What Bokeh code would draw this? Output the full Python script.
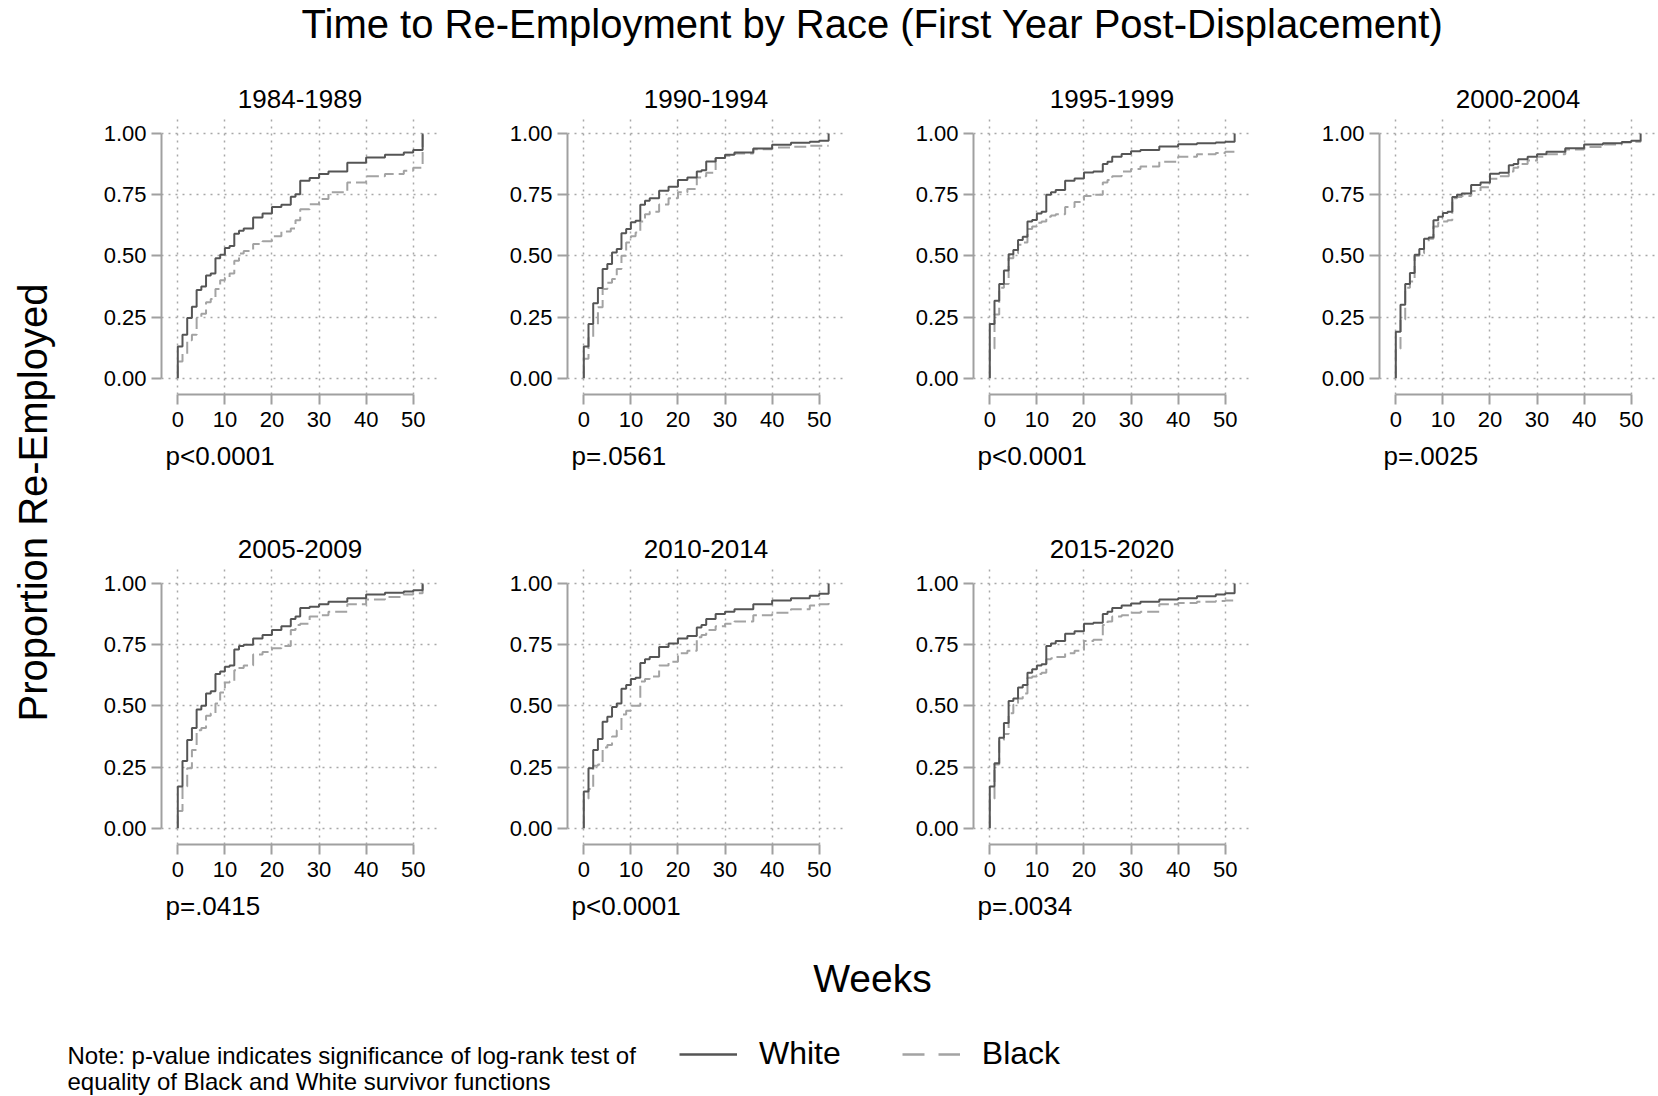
from math import pi

from bokeh.core.properties import value
from bokeh.embed import file_html
from bokeh.layouts import column, row
from bokeh.models import (ColumnDataSource, FixedTicker, Legend, LegendItem,
                          PrintfTickFormatter, Range1d, Spacer, Title)
from bokeh.plotting import figure
from bokeh.resources import INLINE

FONT = "Liberation Sans"
WHITE_COLOR = "#555555"
BLACK_COLOR = "#a3a3a3"
AXIS_COLOR = "#a0a0a0"
GRID_COLOR = "#a8a8a8"

# ---- data -----------------------------------------------------------------
weeks = [0, 1, 2, 3, 4, 5, 6, 7, 8, 9, 10, 11, 12, 13, 14,
         16, 18, 20, 22, 24, 25, 26, 28, 30, 32, 36, 40, 44, 48, 50, 52]

periods = ["1984-1989", "1990-1994", "1995-1999", "2000-2004",
           "2005-2009", "2010-2014", "2015-2020"]
p_values = ["p<0.0001", "p=.0561", "p<0.0001", "p=.0025",
            "p=.0415", "p<0.0001", "p=.0034"]

x_ticks = [0, 10, 20, 30, 40, 50]
y_ticks = [0, 0.25, 0.5, 0.75, 1.0]

# cumulative proportion re-employed at each week
white_1984 = [0.13, 0.178, 0.246, 0.292, 0.36, 0.375, 0.42, 0.428, 0.49, 0.505, 0.532, 0.54, 0.59, 0.603, 0.612,
              0.657, 0.673, 0.70, 0.709, 0.741, 0.752, 0.807, 0.818, 0.834, 0.845, 0.88, 0.902, 0.913, 0.922, 0.932, 1.0]
black_1984 = [0.068, 0.10, 0.155, 0.178, 0.246, 0.263, 0.31, 0.324, 0.365, 0.40, 0.412, 0.428, 0.48, 0.51, 0.52,
              0.548, 0.56, 0.58, 0.60, 0.612, 0.645, 0.69, 0.711, 0.732, 0.76, 0.80, 0.825, 0.834, 0.848, 0.86, 1.0]

white_1990 = [0.13, 0.222, 0.306, 0.369, 0.446, 0.467, 0.514, 0.528, 0.592, 0.61, 0.637, 0.643, 0.709, 0.725, 0.735,
              0.766, 0.782, 0.81, 0.82, 0.845, 0.85, 0.886, 0.90, 0.913, 0.922, 0.939, 0.954, 0.962, 0.966, 0.97, 1.0]
black_1990 = [0.08, 0.165, 0.215, 0.29, 0.365, 0.39, 0.405, 0.446, 0.50, 0.555, 0.58, 0.595, 0.64, 0.67, 0.68,
              0.71, 0.735, 0.76, 0.773, 0.82, 0.825, 0.84, 0.90, 0.909, 0.918, 0.936, 0.943, 0.946, 0.95, 0.95, 0.95]

white_1995 = [0.222, 0.317, 0.385, 0.44, 0.507, 0.524, 0.565, 0.578, 0.64, 0.646, 0.673, 0.68, 0.75, 0.76, 0.769,
              0.807, 0.816, 0.841, 0.845, 0.875, 0.885, 0.905, 0.916, 0.927, 0.933, 0.947, 0.956, 0.96, 0.963, 0.966, 1.0]
black_1995 = [0.12, 0.26, 0.37, 0.385, 0.49, 0.51, 0.545, 0.555, 0.61, 0.62, 0.635, 0.64, 0.66, 0.665, 0.67,
              0.70, 0.72, 0.745, 0.75, 0.80, 0.81, 0.825, 0.845, 0.855, 0.865, 0.885, 0.905, 0.915, 0.92, 0.925, 0.93]

white_2000 = [0.19, 0.30, 0.385, 0.43, 0.505, 0.528, 0.57, 0.575, 0.645, 0.66, 0.675, 0.68, 0.74, 0.75, 0.755,
              0.79, 0.80, 0.835, 0.84, 0.87, 0.875, 0.895, 0.905, 0.915, 0.925, 0.94, 0.955, 0.96, 0.965, 0.97, 1.0]
black_2000 = [0.12, 0.24, 0.37, 0.395, 0.50, 0.51, 0.555, 0.57, 0.62, 0.635, 0.64, 0.645, 0.735, 0.74, 0.745,
              0.765, 0.78, 0.815, 0.825, 0.845, 0.86, 0.875, 0.89, 0.905, 0.915, 0.935, 0.945, 0.955, 0.963, 0.966, 0.97]

white_2005 = [0.17, 0.275, 0.36, 0.41, 0.485, 0.50, 0.55, 0.56, 0.63, 0.64, 0.66, 0.665, 0.73, 0.745, 0.75,
              0.775, 0.79, 0.81, 0.825, 0.855, 0.865, 0.90, 0.905, 0.915, 0.925, 0.94, 0.955, 0.962, 0.967, 0.972, 1.0]
black_2005 = [0.07, 0.17, 0.245, 0.32, 0.40, 0.41, 0.46, 0.47, 0.51, 0.555, 0.595, 0.60, 0.645, 0.655, 0.665,
              0.71, 0.72, 0.735, 0.745, 0.81, 0.83, 0.835, 0.865, 0.87, 0.885, 0.915, 0.935, 0.945, 0.955, 0.96, 1.0]

white_2010 = [0.15, 0.245, 0.32, 0.365, 0.435, 0.455, 0.495, 0.51, 0.57, 0.585, 0.61, 0.615, 0.675, 0.69, 0.70,
              0.74, 0.755, 0.775, 0.785, 0.82, 0.83, 0.855, 0.875, 0.885, 0.895, 0.915, 0.93, 0.94, 0.95, 0.958, 1.0]
black_2010 = [0.12, 0.16, 0.255, 0.26, 0.33, 0.34, 0.375, 0.40, 0.465, 0.48, 0.50, 0.50, 0.60, 0.61, 0.62,
              0.665, 0.68, 0.715, 0.725, 0.78, 0.79, 0.81, 0.825, 0.835, 0.845, 0.87, 0.88, 0.895, 0.91, 0.915, 0.92]

white_2015 = [0.17, 0.265, 0.37, 0.43, 0.52, 0.53, 0.575, 0.585, 0.635, 0.65, 0.665, 0.67, 0.745, 0.755, 0.765,
              0.795, 0.805, 0.835, 0.84, 0.875, 0.885, 0.90, 0.91, 0.918, 0.925, 0.935, 0.94, 0.948, 0.955, 0.96, 1.0]
black_2015 = [0.12, 0.26, 0.36, 0.385, 0.47, 0.505, 0.53, 0.55, 0.615, 0.62, 0.63, 0.635, 0.69, 0.695, 0.70,
              0.715, 0.725, 0.765, 0.77, 0.83, 0.845, 0.865, 0.87, 0.88, 0.885, 0.915, 0.92, 0.925, 0.928, 0.93, 0.93]

white_series = [white_1984, white_1990, white_1995, white_2000, white_2005, white_2010, white_2015]
black_series = [black_1984, black_1990, black_1995, black_2000, black_2005, black_2010, black_2015]

# ---- geometry -----------------------------------------------------------------
CANVAS_W = 1658
CANVAS_H = 1096
HEADER_H = 60
PANEL_W = 406
ROW_HEIGHTS = [450, 420]
FRAME = 277
BORDER_L = 70
BORDER_T = 57
YLAB_W = 91
LAST_W = CANVAS_W - YLAB_W - 3 * PANEL_W
GRID_H = sum(ROW_HEIGHTS)
FOOTER_H = CANVAS_H - HEADER_H - GRID_H


def blank(width, height):
    f = figure(width=width, height=height, x_range=Range1d(0, width), y_range=Range1d(0, height),
               output_backend="svg", toolbar_location=None, min_border=0,
               x_axis_location=None, y_axis_location=None, outline_line_color=None,
               background_fill_color="white", border_fill_color="white")
    f.grid.visible = False
    return f


def make_panel(i, width, height):
    p = figure(width=width, height=height,
               x_range=Range1d(-3.46, 55.37), y_range=Range1d(-0.0665, 1.0653),
               output_backend="svg", toolbar_location=None,
               min_border_left=BORDER_L, min_border_right=width - BORDER_L - FRAME,
               min_border_top=BORDER_T, min_border_bottom=height - BORDER_T - FRAME,
               outline_line_color=None, background_fill_color="white",
               border_fill_color="white")

    p.title.text = periods[i]
    p.title.align = "center"
    p.title.text_font = FONT
    p.title.text_font_size = "26px"
    p.title.text_font_style = "normal"
    p.title.text_color = "black"
    p.title.standoff = 19

    p.add_layout(Title(text=p_values[i], align="left", offset=4, standoff=18,
                       text_font=FONT, text_font_size="26px",
                       text_font_style="normal", text_color="black"), "below")

    for ax in (p.xaxis, p.yaxis):
        ax.axis_line_color = AXIS_COLOR
        ax.axis_line_width = 2
        ax.major_tick_line_color = AXIS_COLOR
        ax.major_tick_line_width = 2
        ax.major_tick_out = 10
        ax.major_tick_in = 0
        ax.minor_tick_line_color = None
        ax.major_label_text_font = FONT
        ax.major_label_text_font_size = "22px"
        ax.major_label_text_color = "black"
    p.xaxis.major_label_standoff = 7
    p.yaxis.major_label_standoff = 5

    p.xaxis.ticker = FixedTicker(ticks=x_ticks)
    p.yaxis.ticker = FixedTicker(ticks=y_ticks)
    p.yaxis.formatter = PrintfTickFormatter(format="%.2f")
    p.xaxis.bounds = (x_ticks[0], x_ticks[-1])
    p.yaxis.bounds = (y_ticks[0], y_ticks[-1])

    p.grid.grid_line_color = GRID_COLOR
    p.grid.grid_line_width = 1.5
    p.grid.grid_line_dash = "2 5"

    src = ColumnDataSource(dict(x=[0] + weeks,
                                white=[0] + white_series[i],
                                black=[0] + black_series[i]))
    p.step("x", "black", source=src, mode="after", line_color=BLACK_COLOR,
           line_width=2, line_dash="12 5")
    p.step("x", "white", source=src, mode="after", line_color=WHITE_COLOR,
           line_width=2)
    return p


panels = []
for i in range(7):
    r, c = divmod(i, 4)
    panels.append(make_panel(i, PANEL_W if c < 3 else LAST_W, ROW_HEIGHTS[r]))

# ---- header / side label / footer ---------------------------------------------------
header = blank(CANVAS_W, HEADER_H)
header.text(x=[872], y=[HEADER_H - 23], text=["Time to Re-Employment by Race (First Year Post-Displacement)"],
            text_font=value(FONT), text_font_size="40px", text_color="black",
            text_align="center", text_baseline="middle")

ylab = blank(YLAB_W, GRID_H)
ylab.text(x=[32], y=[GRID_H - (502 - HEADER_H)], text=["Proportion Re-Employed"], angle=pi / 2,
          text_font=value(FONT), text_font_size="40px", text_color="black",
          text_align="center", text_baseline="middle")

footer = blank(CANVAS_W, FOOTER_H)
footer.text(x=[872], y=[118], text=["Weeks"],
            text_font=value(FONT), text_font_size="39px", text_color="black",
            text_align="center", text_baseline="middle")
footer.text(x=[67, 67], y=[41, 15],
            text=["Note: p-value indicates significance of log-rank test of",
                  "equality of Black and White survivor functions"],
            text_font=value(FONT), text_font_size="24px", text_color="black",
            text_align="left", text_baseline="middle")

nan = float("nan")
key_white = footer.line(x=[nan], y=[nan], line_color=WHITE_COLOR, line_width=2.5)
key_black = footer.line(x=[nan], y=[nan], line_color=BLACK_COLOR, line_width=2.5, line_dash="22 14")
legend = Legend(items=[LegendItem(label="White", renderers=[key_white]),
                       LegendItem(label="Black", renderers=[key_black])],
                orientation="horizontal", location=(679, 24),
                glyph_width=58, glyph_height=20, label_standoff=22, spacing=61,
                padding=0, margin=0, border_line_color=None, background_fill_alpha=0,
                label_text_font=FONT, label_text_font_size="32px", label_text_color="black")
footer.add_layout(legend, "center")

grid_rows = column(row(*panels[:4]),
                   row(*panels[4:], Spacer(width=LAST_W, height=ROW_HEIGHTS[1])))
layout = column(header, row(ylab, grid_rows), footer)

open("out.html", "w").write(file_html(layout, INLINE))
